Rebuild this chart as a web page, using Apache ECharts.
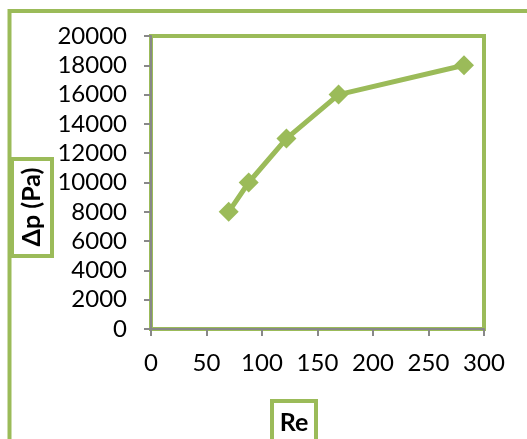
<!DOCTYPE html>
<html><head><meta charset="utf-8">
<script src="https://cdn.jsdelivr.net/npm/echarts@6/dist/echarts.min.js"></script>
<style>html,body{margin:0;padding:0;background:#fff}#c{width:527px;height:439px}</style>
</head><body><div id="c"></div>
<script>
const reValues = [70, 88, 122, 169, 282];
const dpValues = [8000, 10000, 13000, 16000, 18000];
const xTitle = 'Re';
const yTitle = 'Δp (Pa)';
const green = '#9BBB59';
const font = 'Lato, "Open Sans", sans-serif';
const chart = echarts.init(document.getElementById('c'));
chart.setOption({
  animation: false,
  backgroundColor: '#fff',
  grid: {left: 151, top: 36, right: 43, bottom: 110, show: true, borderColor: green, borderWidth: 4, backgroundColor: '#fff'},
  xAxis: {type: 'value', min: 0, max: 300, interval: 50,
    axisLine: {show: true, onZero: false, lineStyle: {color: '#888', width: 2}},
    axisTick: {show: true, length: 7, lineStyle: {color: '#888', width: 2}},
    splitLine: {show: false},
    axisLabel: {color: '#000', fontSize: 24, fontFamily: font, margin: 22, formatter: v => String(v)}},
  yAxis: {type: 'value', min: 0, max: 20000, interval: 2000,
    axisLine: {show: true, lineStyle: {color: '#888', width: 2}},
    axisTick: {show: true, length: 7, lineStyle: {color: '#888', width: 2}},
    splitLine: {show: false},
    axisLabel: {color: '#000', fontSize: 24, fontFamily: font, margin: 24, formatter: v => String(v)}},
  series: [{type: 'line', data: reValues.map((r, i) => [r, dpValues[i]]),
    symbol: 'diamond', symbolSize: 20, showSymbol: true,
    lineStyle: {color: green, width: 5}, itemStyle: {color: green}}],
  graphic: [
    {type: 'rect', shape: {x: 9.5, y: 11, width: 560, height: 480}, style: {fill: null, stroke: green, lineWidth: 4}, z: 100},
    {type: 'rect', shape: {x: 12, y: 159, width: 40, height: 97}, style: {fill: '#fff', stroke: green, lineWidth: 4}, z: 101},
    {type: 'text', x: 32, y: 207, rotation: Math.PI / 2, style: {text: yTitle, fontSize: 25, fontWeight: 'bold', fontFamily: font, fill: '#000', align: 'center', verticalAlign: 'middle'}, z: 102},
    {type: 'rect', shape: {x: 272, y: 401, width: 44, height: 60}, style: {fill: '#fff', stroke: green, lineWidth: 4}, z: 101},
    {type: 'text', x: 294, y: 423, style: {text: xTitle, fontSize: 25, fontWeight: 'bold', fontFamily: font, fill: '#000', align: 'center', verticalAlign: 'middle'}, z: 102}
  ]
});
</script></body></html>
